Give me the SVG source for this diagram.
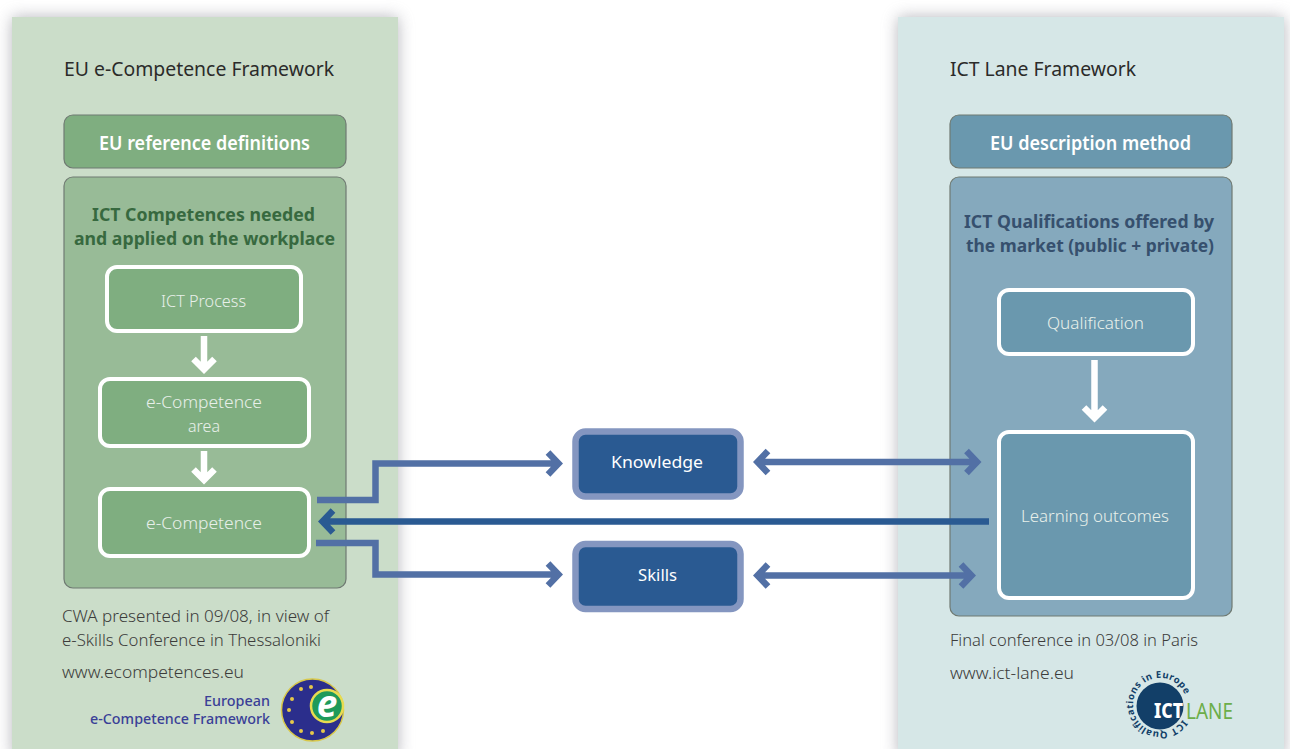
<svg xmlns="http://www.w3.org/2000/svg" width="1290" height="749" viewBox="0 0 1290 749">
<style>
text{font-family:"Noto Sans","Open Sans","Liberation Sans",sans-serif}
.t{font-size:20px;fill:#2b2b2a}
.h{font-size:19px;font-weight:600;fill:#fff}
.gt{font-size:18.5px;font-weight:700;fill:#37693f}
.bt{font-size:18.5px;font-weight:700;fill:#36506e}
.w{font-size:17px;fill:#e8f0ea;font-weight:300}
.wb{font-size:17px;fill:#fff}
.n{font-size:17px;fill:#3c3c3b;font-weight:300}
.inner{stroke:#6f7a72;stroke-width:1.2}
.box{stroke:#fff;stroke-width:4}
.c{fill:none;stroke:#5270a5;stroke-width:6.500}
.d{fill:none;stroke:#2a5a92;stroke-width:6.500}
.a{fill:none;stroke:#fff;stroke-width:6.500}
.m{fill:#2a5a92;stroke:#8496c0;stroke-width:6.500}
.lg{fill:#3a3f97;font-size:14.500px;font-weight:500}
</style>
<defs>
<filter id="s" x="-10%" y="-10%" width="120%" height="120%"><feGaussianBlur stdDeviation="8"/></filter>
</defs>
<rect width="1290" height="749" fill="#fff"/>
<g id="panel-left">
<rect x="12" y="17" width="386" height="740" fill="#8f8f98" opacity=".65" filter="url(#s)"/>
<rect x="12" y="17" width="386" height="732" fill="#cbddc9"/>
<text class="t" x="64" y="76" textLength="270" lengthAdjust="spacingAndGlyphs">EU e-Competence Framework</text>
<rect class="inner" x="64" y="115" width="282" height="53" rx="9" fill="#7fae80"/>
<text class="h" x="99" y="150" textLength="211" lengthAdjust="spacingAndGlyphs">EU reference definitions</text>
<rect class="inner" x="64" y="177" width="282" height="411" rx="9" fill="#98bb97"/>
<text class="gt" x="92" y="221" textLength="223" lengthAdjust="spacingAndGlyphs">ICT Competences needed</text>
<text class="gt" x="74" y="245" textLength="261" lengthAdjust="spacingAndGlyphs">and applied on the workplace</text>
<text class="n" x="62" y="622" textLength="267" lengthAdjust="spacingAndGlyphs">CWA presented in 09/08, in view of</text>
<text class="n" x="62" y="646" textLength="259" lengthAdjust="spacingAndGlyphs">e-Skills Conference in Thessaloniki</text>
<text class="n" x="62" y="678" textLength="182" lengthAdjust="spacingAndGlyphs">www.ecompetences.eu</text>
</g>
<g id="panel-right">
<rect x="898" y="17" width="386" height="740" fill="#8f8f98" opacity=".65" filter="url(#s)"/>
<rect x="898" y="17" width="386" height="732" fill="#d6e7e7"/>
<text class="t" x="950" y="76" textLength="186" lengthAdjust="spacingAndGlyphs">ICT Lane Framework</text>
<rect class="inner" x="950" y="115" width="282" height="53" rx="9" fill="#6a98ae"/>
<text class="h" x="990" y="150" textLength="201" lengthAdjust="spacingAndGlyphs">EU description method</text>
<rect class="inner" x="950" y="177" width="282" height="439" rx="9" fill="#85a9bd"/>
<text class="bt" x="964" y="228" textLength="250" lengthAdjust="spacingAndGlyphs">ICT Qualifications offered by</text>
<text class="bt" x="966" y="252" textLength="248" lengthAdjust="spacingAndGlyphs">the market (public + private)</text>
<text class="n" x="950" y="646" textLength="248" lengthAdjust="spacingAndGlyphs">Final conference in 03/08 in Paris</text>
<text class="n" x="950" y="679" textLength="124" lengthAdjust="spacingAndGlyphs">www.ict-lane.eu</text>
</g>
<g id="node-ict-process"><rect class="box" x="107" y="267" width="194" height="64" rx="10" fill="#7fae80"/><text class="w" x="161" y="307" textLength="85" lengthAdjust="spacingAndGlyphs">ICT Process</text></g>
<g id="node-area"><rect class="box" x="100" y="379" width="209" height="67" rx="10" fill="#7fae80"/><text class="w" x="146" y="408" textLength="116" lengthAdjust="spacingAndGlyphs">e-Competence</text><text class="w" x="188" y="432" textLength="32" lengthAdjust="spacingAndGlyphs">area</text></g>
<g id="node-competence"><rect class="box" x="100" y="489" width="209" height="67" rx="10" fill="#7fae80"/><text class="w" x="146" y="529" textLength="116" lengthAdjust="spacingAndGlyphs">e-Competence</text></g>
<g id="node-qualification"><rect class="box" x="999" y="290" width="194" height="64" rx="10" fill="#6a98ae"/><text class="w" x="1047" y="329" textLength="97" lengthAdjust="spacingAndGlyphs">Qualification</text></g>
<g id="node-outcomes"><rect class="box" x="999" y="432" width="194" height="166" rx="10" fill="#6a98ae"/><text class="w" x="1021" y="522" textLength="148" lengthAdjust="spacingAndGlyphs">Learning outcomes</text></g>
<g id="node-knowledge"><rect class="m" x="575.500" y="431.500" width="165" height="65" rx="10"/><text class="wb" x="611" y="468" textLength="92" lengthAdjust="spacingAndGlyphs">Knowledge</text></g>
<g id="node-skills"><rect class="m" x="575.500" y="544" width="165" height="65" rx="10"/><text class="wb" x="638" y="581" textLength="39" lengthAdjust="spacingAndGlyphs">Skills</text></g>
<g id="connectors">
<path class="a" d="M204 336V369M193.500 359L204 369.500L214.500 359"/>
<path class="a" d="M204 451V479M193.500 469.500L204 480L214.500 469.500"/>
<path class="a" d="M1094.500 360V417M1084 407.500L1094.500 418L1105 407.500"/>
<path class="c" d="M317 500H375.500V463.500H557M548 452.500L558.500 463.500L548 474.500"/>
<path class="c" d="M316 543H375.500V574.500H557M548 563.500L558.500 574.500L548 585.500"/>
<path class="d" d="M989 521.500H323M333 510.500L322.500 521.500L333 532.500"/>
<path class="c" d="M759 462H976M768 451L757.500 462L768 473M966.500 451L977 462L966.500 473"/>
<path class="c" d="M759 575.500H971M768 564.500L757.500 575.500L768 586.500M961 564.500L971.500 575.500L961 586.500"/>
</g>
<g id="logo-ecf">
<text class="lg" x="204" y="706" textLength="66" lengthAdjust="spacingAndGlyphs">European</text>
<text class="lg" x="90" y="724" textLength="180" lengthAdjust="spacingAndGlyphs">e-Competence Framework</text>
<circle cx="312.500" cy="710" r="31" fill="#2b2e8c" stroke="#d8c84a" stroke-width="1.500"/>
<g fill="#e6c84a"><circle cx="311" cy="687" r="2"/><circle cx="301" cy="689" r="2"/><circle cx="292" cy="699" r="2"/><circle cx="289" cy="710" r="2"/><circle cx="292" cy="722" r="2"/><circle cx="301" cy="731" r="2"/><circle cx="312" cy="733" r="2"/><circle cx="323" cy="731" r="2"/></g>
<circle cx="327" cy="706" r="16" fill="#1f9a5a" stroke="#e8dc50" stroke-width="2.500"/>
<text x="327" y="717" text-anchor="middle" style="font-size:37px;font-weight:700;font-style:italic;fill:#fff">e</text>
</g>
<g id="logo-lane">
<defs><path id="arc" d="M1182.600 719.700A27 27 0 1 1 1185.700 696.700"/></defs>
<circle cx="1160" cy="706" r="23.500" fill="#123f68"/>
<text style="font-size:9.500px;font-weight:700;fill:#123f68"><textPath href="#arc" textLength="143">ICT Qualifications in Europe</textPath></text>
<text x="1154" y="718" textLength="29" lengthAdjust="spacingAndGlyphs" style="font-size:21px;font-weight:800;fill:#fff">ICT</text>
<text x="1186" y="719" textLength="47" lengthAdjust="spacingAndGlyphs" style="font-size:21px;fill:#6cae4a">LANE</text>
</g>
</svg>
